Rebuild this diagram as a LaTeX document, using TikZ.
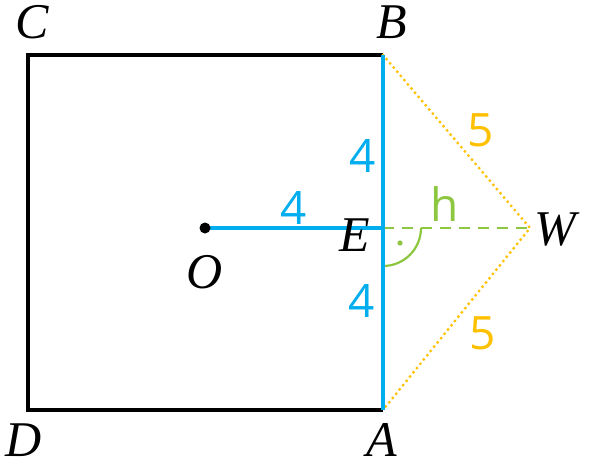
\documentclass[tikz,border=0pt]{standalone}
\usepackage{fontspec}
\setmainfont{Liberation Serif}
\newfontfamily\handfont{Open Sans}
\definecolor{cblue}{RGB}{0,174,239}
\definecolor{corange}{RGB}{255,192,0}
\definecolor{cgreen}{RGB}{141,198,63}
\begin{document}
\begin{tikzpicture}[x=1pt,y=-1pt,
  lbl/.style={font=\fontsize{50}{50}\selectfont\itshape, inner sep=0pt},
  num/.style={font=\handfont\fontsize{46}{46}\selectfont, inner sep=0pt},
  sq/.style={line width=3.4pt, black},
  seg/.style={line width=4.4pt, cblue},
  dotl/.style={line width=3.2pt, corange, line cap=round, dash pattern=on 0pt off 5.5pt},
  hline/.style={line width=2.6pt, cgreen, dash pattern=on 11pt off 8pt}]
\useasboundingbox (0,0) rectangle (599,466);
\coordinate (Cc) at (28,55);
\coordinate (Bc) at (383,55);
\coordinate (Ac) at (383,410);
\coordinate (Dc) at (28,410);
\coordinate (Oc) at (205,228);
\coordinate (Ec) at (383,228);
\coordinate (Wc) at (530,228);
\draw[sq] (Bc) -- (Cc) -- (Dc) -- (Ac);
\draw[dotl] (Bc) -- (Wc) -- (Ac);
\draw[hline] (Ec) -- (Wc);
\draw[cgreen, line width=2.2pt] ([xshift=38pt]Ec) arc[start angle=0, end angle=-90, radius=38pt];
\fill[cgreen] (400,243) circle (2.6pt);
\draw[seg] (Bc) -- (Ac);
\draw[seg] (Oc) -- (Ec);
\fill[black] (Oc) circle (5.5pt);
\node[lbl] (C) at (32,22) {C};
\node[lbl] (B) at (392,22) {B};
\node[lbl] (D) at (24,440) {D};
\node[lbl] (A) at (382,440) {A};
\node[lbl] (E) at (355,235) {E};
\node[lbl] (O) at (205,272) {O};
\node[lbl] (W) at (555,230) {W};
\node[num, cblue] (n1) at (363,156) {4};
\node[num, cblue] (n2) at (294,208) {4};
\node[num, cblue] (n3) at (362,301) {4};
\node[num, corange] (f1) at (481,130) {5};
\node[num, corange] (f2) at (483,333) {5};
\node[num, cgreen] (h) at (445,204) {h};
\end{tikzpicture}
\end{document}
